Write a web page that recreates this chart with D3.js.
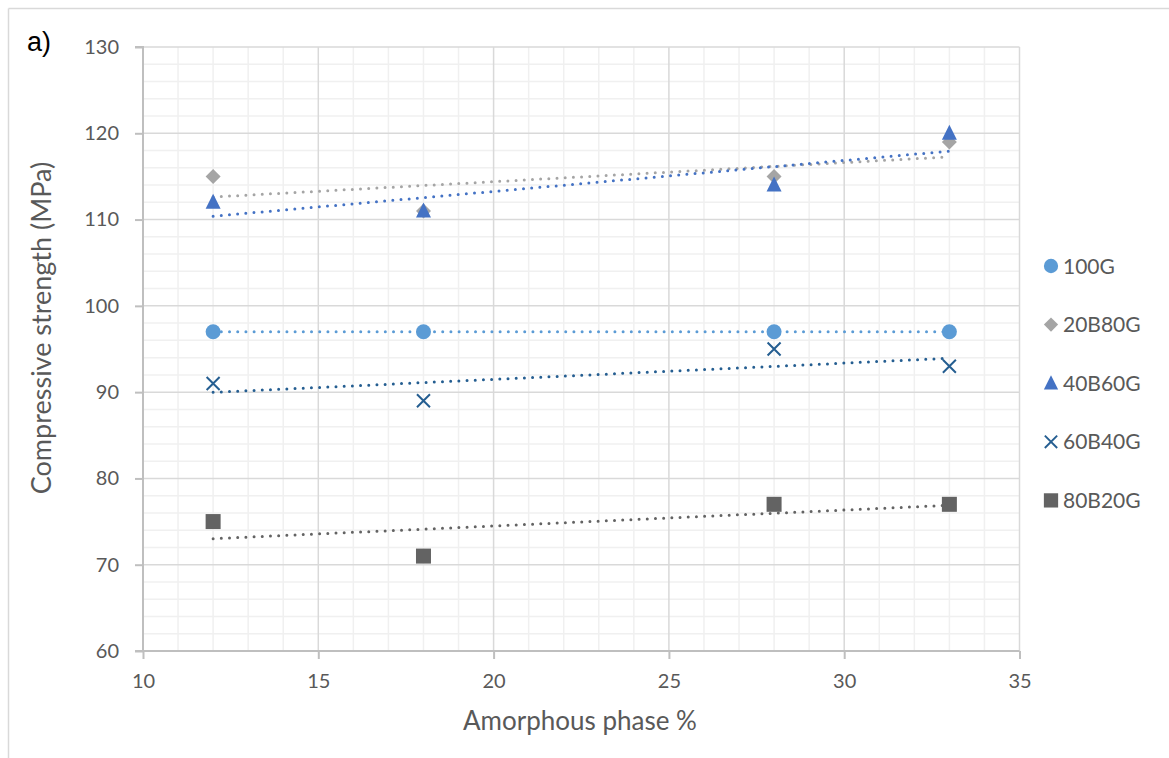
<!DOCTYPE html>
<html lang="en">
<head>
<meta charset="UTF-8" />
<title>Compressive strength vs amorphous phase</title>
<style>
  body { margin: 0; background: #fff; }
  text { font-family: Lato, "Open Sans", sans-serif; }
</style>
</head>
<body>
<div id="chart"></div>
<script src="https://d3js.org/d3.v7.min.js"></script>
<script>

var w = 1169;
var h = 758;

// data
var xValues = [12, 18, 28, 33];
var seriesNames = ["100G", "20B80G", "40B60G", "60B40G", "80B20G"];
var s100G   = [97, 97, 97, 97];
var s20B80G = [115, 111, 115, 119];
var s40B60G = [112, 111, 114, 120];
var s60B40G = [91, 89, 95, 93];
var s80B20G = [75, 71, 77, 77];
var xTicks = [10, 15, 20, 25, 30, 35];
var yTicks = [60, 70, 80, 90, 100, 110, 120, 130];

var colors = ["#5b9bd5", "#a5a5a5", "#4472c4", "#255e91", "#636363"];
var shapes = ["circle", "diamond", "triangle", "cross", "square"];

var allSeries = [s100G, s20B80G, s40B60G, s60B40G, s80B20G].map(function(vals, i) {
  return { name: seriesNames[i], color: colors[i], shape: shapes[i],
           pts: vals.map(function(v, j) { return { x: xValues[j], y: v }; }) };
});

var margin = { left: 143, right: 1019.5, top: 47, bottom: 651 };

var x = d3.scaleLinear().domain([10, 35]).range([margin.left, margin.right]);
var y = d3.scaleLinear().domain([60, 130]).range([margin.bottom, margin.top]);

var svg = d3.select("#chart").append("svg")
  .attr("width", w)
  .attr("height", h);

// outer frame (only top and left visible)
svg.append("line").attr("x1", 8.5).attr("x2", w).attr("y1", 8.5).attr("y2", 8.5)
  .attr("stroke", "#d9d9d9").attr("stroke-width", 1.5);
svg.append("line").attr("x1", 8.5).attr("x2", 8.5).attr("y1", 8.5).attr("y2", h)
  .attr("stroke", "#d9d9d9").attr("stroke-width", 1.5);

// minor grid
var grid = svg.append("g");
grid.selectAll("line.minx")
  .data(d3.range(11, 35).filter(function(d) { return d % 5 !== 0; }))
  .enter().append("line")
  .attr("x1", function(d) { return x(d); }).attr("x2", function(d) { return x(d); })
  .attr("y1", margin.top).attr("y2", margin.bottom)
  .attr("stroke", "#f0f0f0").attr("stroke-width", 1.5);
grid.selectAll("line.miny")
  .data(d3.range(62, 130, 2).filter(function(d) { return d % 10 !== 0; }))
  .enter().append("line")
  .attr("x1", margin.left).attr("x2", margin.right)
  .attr("y1", function(d) { return y(d); }).attr("y2", function(d) { return y(d); })
  .attr("stroke", "#f0f0f0").attr("stroke-width", 1.5);

// major grid
grid.selectAll("line.majx")
  .data(xTicks.slice(1))
  .enter().append("line")
  .attr("x1", function(d) { return x(d); }).attr("x2", function(d) { return x(d); })
  .attr("y1", margin.top).attr("y2", margin.bottom)
  .attr("stroke", "#d9d9d9").attr("stroke-width", 1.5);
grid.selectAll("line.majy")
  .data(yTicks.slice(1))
  .enter().append("line")
  .attr("x1", margin.left).attr("x2", margin.right)
  .attr("y1", function(d) { return y(d); }).attr("y2", function(d) { return y(d); })
  .attr("stroke", "#d9d9d9").attr("stroke-width", 1.5);

// axes
var xAxis = svg.append("g")
  .attr("transform", "translate(0," + margin.bottom + ")")
  .call(d3.axisBottom(x).tickValues(xTicks).tickSize(8).tickPadding(15));
var yAxis = svg.append("g")
  .attr("transform", "translate(" + margin.left + ",0)")
  .call(d3.axisLeft(y).tickValues(yTicks).tickSize(8).tickPadding(16));

[xAxis, yAxis].forEach(function(a) {
  a.select(".domain").attr("stroke", "#bfbfbf").attr("stroke-width", 2);
  a.selectAll(".tick line").attr("stroke", "#bfbfbf").attr("stroke-width", 2);
  a.selectAll(".tick text").attr("fill", "#595959").style("font-size", "20px");
});
xAxis.select(".domain").attr("d", "M" + (margin.left - 8) + ",0H" + margin.right);
yAxis.select(".domain").attr("d", "M0," + margin.bottom + "V" + (margin.top) + "H-8");

// axis titles
svg.append("text")
  .attr("x", 580).attr("y", 730)
  .attr("text-anchor", "middle")
  .attr("fill", "#595959").style("font-size", "26px")
  .text("Amorphous phase %");
svg.append("text")
  .attr("transform", "translate(51,328) rotate(-90)")
  .attr("text-anchor", "middle")
  .attr("fill", "#595959").style("font-size", "27px")
  .text("Compressive strength (MPa)");

svg.append("text")
  .attr("x", 27).attr("y", 51)
  .attr("fill", "#000").style("font-size", "27px")
  .style("font-family", "'Liberation Sans', Arial, sans-serif")
  .text("a)");

// trend lines (least squares fit of each series)
function fit(pts) {
  var mx = d3.mean(pts, function(p) { return p.x; });
  var my = d3.mean(pts, function(p) { return p.y; });
  var sxy = d3.sum(pts, function(p) { return (p.x - mx) * (p.y - my); });
  var sxx = d3.sum(pts, function(p) { return (p.x - mx) * (p.x - mx); });
  var b = sxy / sxx;
  return function(v) { return my + b * (v - mx); };
}

var x0 = d3.min(xValues), x1 = d3.max(xValues);
allSeries.forEach(function(s) {
  var f = fit(s.pts);
  svg.append("line")
    .attr("x1", x(x0)).attr("y1", y(f(x0)))
    .attr("x2", x(x1)).attr("y2", y(f(x1)))
    .attr("stroke", s.color)
    .attr("stroke-width", 3)
    .attr("stroke-linecap", "round")
    .attr("stroke-dasharray", "0,8.2");
});

// markers
function marker(g, shape, color) {
  if (shape === "circle") {
    g.append("circle").attr("r", 7.5).attr("fill", color);
  } else if (shape === "diamond") {
    g.append("path").attr("d", "M0,-7.5L7.5,0L0,7.5L-7.5,0Z").attr("fill", color);
  } else if (shape === "triangle") {
    g.append("path").attr("d", "M0,-8.5L7.5,6.5L-7.5,6.5Z").attr("fill", color);
  } else if (shape === "square") {
    g.append("rect").attr("x", -7.5).attr("y", -7.5).attr("width", 15).attr("height", 15)
      .attr("fill", color);
  } else if (shape === "cross") {
    g.append("path").attr("d", "M-6.5,-6.5L6.5,6.5M-6.5,6.5L6.5,-6.5")
      .attr("stroke", color).attr("stroke-width", 2).attr("fill", "none");
  }
}

allSeries.forEach(function(s) {
  s.pts.forEach(function(p) {
    var g = svg.append("g").attr("transform", "translate(" + x(p.x) + "," + y(p.y) + ")");
    marker(g, s.shape, s.color);
  });
});

// legend
var legend = svg.append("g");
allSeries.forEach(function(s, i) {
  var ly = 266 + i * 58.6;
  var g = legend.append("g").attr("transform", "translate(1051," + ly + ")");
  var m = g.append("g").attr("transform", "scale(0.95)");
  marker(m, s.shape, s.color);
  g.append("text")
    .attr("x", 12).attr("y", 7.5)
    .attr("fill", "#595959").style("font-size", "21px")
    .text(s.name);
});

</script>
</body>
</html>
